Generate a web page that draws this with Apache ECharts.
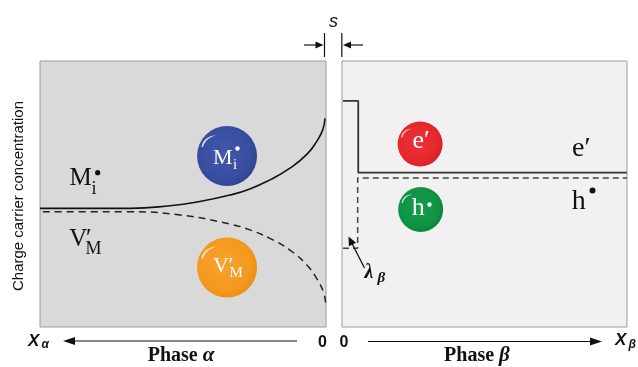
<!DOCTYPE html>
<html><head><meta charset="utf-8">
<script src="https://cdn.jsdelivr.net/npm/echarts@6/dist/echarts.min.js"></script>
<style>html,body{margin:0;padding:0;background:#fff}#c{width:638px;height:367px}</style>
</head><body><div id="c"></div>
<script>
// ---- data (axis units: 0..100 in each panel; phase alpha axis runs right-to-left from the interface) ----
const miX = [100, 68.5, 54.5, 44.1, 33.6, 26.6, 19.6, 12.6, 6.7, 3.3, 1.15, 0.35];
const miY = [44.6, 44.6, 45.6, 47.2, 49.6, 51.9, 55.3, 59.7, 64.9, 69.7, 74.1, 78.5];
const vmX = [99, 68.5, 51, 33.6, 26.6, 19.6, 12.6, 6.7, 3.3, 0.95, 0.1];
const vmY = [43.3, 43.3, 42.1, 38.7, 36.5, 33.3, 28.9, 23.3, 18.3, 13.3, 9.0];
const eX = [0.35, 5.7, 5.7, 100];
const eY = [85.0, 85.0, 58.0, 58.0];
const hX = [0.35, 5.5, 5.5, 100];
const hY = [29.6, 29.6, 56.0, 56.0];
const alphaBallX = [34.6, 34.6];
const alphaBallY = [64.3, 22.4];
const betaBallX = [27.4, 27.6];
const betaBallY = [68.8, 44.2];
const yTitle = 'Charge carrier concentration';

const zip = (a, b) => a.map((v, i) => [v, b[i]]);
const chart = echarts.init(document.getElementById('c'), null, {renderer: 'canvas'});

function ball(c, light, dark) {
  return new echarts.graphic.RadialGradient(0.45, 0.45, 0.6, [
    {offset: 0, color: light}, {offset: 0.7, color: c}, {offset: 1, color: dark}]);
}
const shine = 'path://M0,12 C1,5 6,1 15,0 C8,2 3,6 1.5,12 Z';

const SERIF = '"Liberation Serif","DejaVu Serif",serif';
const SANS = '"Liberation Sans",Arial,sans-serif';
function T(x, base, text, size, opts) {
  opts = opts || {};
  const font = (opts.style || 'normal') + ' ' + (opts.weight || 'normal') + ' ' + size + 'px ' + (opts.family || SERIF);
  return {type: 'text', x: x, y: base - 0.33 * size, z: 100, silent: true,
    style: {text: text, font: font, fill: opts.fill || '#111', align: opts.align || 'left', verticalAlign: 'middle'}};
}
function dot(x, y, r, fill) { return {type: 'circle', z: 100, silent: true, shape: {cx: x, cy: y, r: r}, style: {fill: fill || '#111'}}; }
function seg(x1, y1, x2, y2, w) { return {type: 'line', z: 100, silent: true, shape: {x1, y1, x2, y2}, style: {stroke: '#111', lineWidth: w || 1.2}}; }
function tri(pts) { return {type: 'polygon', z: 100, silent: true, shape: {points: pts}, style: {fill: '#111'}}; }

const graphics = [
  {type: 'text', x: 18.5, y: 196, rotation: Math.PI / 2, z: 100, silent: true,
    style: {text: yTitle, font: '15px ' + SANS, fill: '#111', align: 'center', verticalAlign: 'middle'}},
  T(333.5, 28, 's', 18, {family: SANS, style: 'italic', align: 'center'}),
  seg(324.5, 33, 324.5, 57), seg(341.8, 33, 341.8, 57),
  seg(304, 45, 317, 45), tri([[323.5, 45], [315.5, 41.5], [315.5, 48.5]]),
  seg(363, 45, 350, 45), tri([[343, 45], [351, 41.5], [351, 48.5]]),
  seg(75, 341, 297, 341), tri([[63, 341], [75, 337], [75, 345]]),
  seg(368, 341.5, 591, 341.5), tri([[602, 341.5], [590, 337.5], [590, 345.5]]),
  T(322.5, 347.5, '0', 16, {family: SANS, weight: 'bold', align: 'center'}),
  T(344, 347.5, '0', 16, {family: SANS, weight: 'bold', align: 'center'}),
  T(28, 346.5, 'X', 17, {family: SANS, weight: 'bold', style: 'italic'}),
  T(41.5, 349, 'α', 12, {family: SANS, weight: 'bold', style: 'italic'}),
  T(615, 346, 'X', 17, {family: SANS, weight: 'bold', style: 'italic'}),
  T(628.5, 349, 'β', 12, {family: SANS, weight: 'bold', style: 'italic'}),
  {type: 'text', x: 181, y: 362 - 6.6, z: 100, silent: true,
    style: {text: '{a|Phase }{b|α}', align: 'center', verticalAlign: 'middle', fill: '#111',
      rich: {a: {font: 'bold 20px ' + SERIF, fill: '#111'}, b: {font: 'bold italic 21px ' + SERIF, fill: '#111'}}}},
  {type: 'text', x: 477, y: 362 - 6.6, z: 100, silent: true,
    style: {text: '{a|Phase }{b|β}', align: 'center', verticalAlign: 'middle', fill: '#111',
      rich: {a: {font: 'bold 20px ' + SERIF, fill: '#111'}, b: {font: 'bold italic 21px ' + SERIF, fill: '#111'}}}},
  T(69.5, 186.7, 'M', 25), T(91.5, 195, 'i', 18), dot(97.7, 172.7, 2.6),
  T(69.3, 247.3, 'V', 25), T(86, 247.3, '′', 25), T(85.5, 255.5, 'M', 18),
  T(213, 165, 'M', 22, {fill: '#fff'}), T(233, 170.5, 'i', 15, {fill: '#fff'}), dot(237.5, 148.5, 2.2, '#fff'),
  T(213, 273, 'V', 22, {fill: '#fff'}), T(228.5, 273, '′', 22, {fill: '#fff'}), T(229.5, 278.5, 'M', 15, {fill: '#fff'}),
  T(412.5, 150, 'e′', 26, {fill: '#fff'}),
  T(411.7, 216.7, 'h', 26, {fill: '#fff'}), dot(429.5, 204.5, 2.2, '#fff'),
  T(572, 158.3, 'e′', 28),
  T(571.7, 211, 'h', 28), dot(592.5, 190.5, 3),
  seg(364.5, 268, 352, 243.5, 1.3), tri([[348.5, 236.5], [356.1, 242.8], [348.9, 246.3]]),
  T(364.5, 279, 'λ', 20, {weight: 'bold', style: 'italic'}),
  T(377.5, 283.5, 'β', 15, {weight: 'bold', style: 'italic'})
];

const axX = (i, inv) => ({gridIndex: i, type: 'value', min: 0, max: 100, inverse: inv, show: false});
const axY = (i) => ({gridIndex: i, type: 'value', min: 0, max: 100, show: false});

chart.setOption({
  animation: false,
  grid: [
    {left: 40, top: 61, width: 286, height: 266, show: true, backgroundColor: '#d9d9d9', borderColor: '#9c9c9c', borderWidth: 1},
    {left: 342, top: 61, width: 285, height: 266, show: true, backgroundColor: '#f1f1f1', borderColor: '#9c9c9c', borderWidth: 1}
  ],
  xAxis: [axX(0, true), axX(1, false)],
  yAxis: [axY(0), axY(1)],
  series: [
    {type: 'line', xAxisIndex: 0, yAxisIndex: 0, data: zip(miX, miY), smooth: 0.5, showSymbol: false,
      lineStyle: {color: '#111', width: 1.6}},
    {type: 'line', xAxisIndex: 0, yAxisIndex: 0, data: zip(vmX, vmY), smooth: 0.5, showSymbol: false,
      lineStyle: {color: '#222', width: 1.5, type: [7, 5]}},
    {type: 'line', xAxisIndex: 1, yAxisIndex: 1, data: zip(eX, eY), showSymbol: false,
      lineStyle: {color: '#333', width: 1.8}},
    {type: 'line', xAxisIndex: 1, yAxisIndex: 1, data: zip(hX, hY), showSymbol: false,
      lineStyle: {color: '#444', width: 1.5, type: [6, 4]}},
    {type: 'scatter', xAxisIndex: 0, yAxisIndex: 0, symbolSize: 60, z: 3,
      data: [
        {value: [alphaBallX[0], alphaBallY[0]], itemStyle: {opacity: 1, color: ball('#3a4ea1', '#4257aa', '#2f4290')}},
        {value: [alphaBallX[1], alphaBallY[1]], itemStyle: {opacity: 1, color: ball('#f5991f', '#f7a22e', '#e88c12')}}
      ]},
    {type: 'scatter', xAxisIndex: 0, yAxisIndex: 0, symbol: shine, symbolSize: [15, 12], symbolOffset: [-18, -15], z: 4,
      itemStyle: {opacity: 1, color: 'rgba(255,255,255,0.8)'}, data: zip(alphaBallX, alphaBallY)},
    {type: 'scatter', xAxisIndex: 1, yAxisIndex: 1, symbolSize: 45, z: 3,
      data: [
        {value: [betaBallX[0], betaBallY[0]], itemStyle: {opacity: 1, color: ball('#e6282c', '#ec3336', '#d01f24')}},
        {value: [betaBallX[1], betaBallY[1]], itemStyle: {opacity: 1, color: ball('#0f9444', '#149c4b', '#0a8039')}}
      ]},
    {type: 'scatter', xAxisIndex: 1, yAxisIndex: 1, symbol: shine, symbolSize: [11, 9], symbolOffset: [-13.5, -11], z: 4,
      itemStyle: {opacity: 1, color: 'rgba(255,255,255,0.8)'}, data: zip(betaBallX, betaBallY)}
  ],
  graphic: graphics
});
</script></body></html>
